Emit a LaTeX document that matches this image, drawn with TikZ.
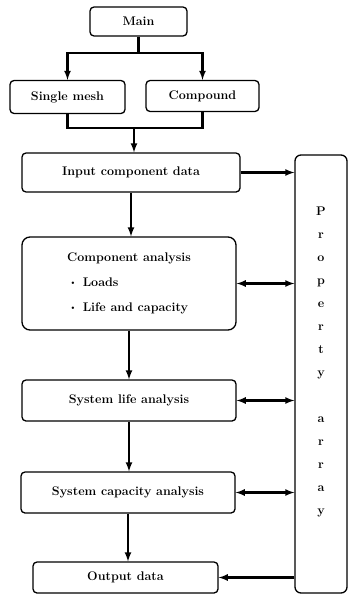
\documentclass[tikz,border=0pt]{standalone}
\usepackage{tikz}
\usetikzlibrary{arrows,calc}
\tikzstyle{blk}=[draw, line width=1.3pt, rounded corners=4pt, inner sep=0pt, font=\fontsize{12.5}{14}\bfseries]
\tikzstyle{lnk}=[line width=2.1pt]
\tikzstyle{arr}=[line width=2.1pt, -latex]
\tikzstyle{darr}=[line width=2.1pt, latex-latex]
\newcommand{\dotitem}{\hspace{4pt}\raisebox{2.5pt}{\tiny$\bullet$}\hspace{8pt}}

\begin{document}
\begin{tikzpicture}[x=1pt,y=-1pt]
\useasboundingbox (0,0) rectangle (349,597);
% program levels
\node[blk, minimum width=97pt, minimum height=29pt] (main) at (138.5,21.5) {Main};
\node[blk, minimum width=115pt, minimum height=33pt] (single) at (67.5,97) {Single mesh};
\node[blk, minimum width=113pt, minimum height=31pt] (compound) at (202.5,96) {Compound};
\node[blk, minimum width=218pt, minimum height=39pt] (input) at (131,172.5) {Input component data};
\node[blk, minimum width=214pt, minimum height=93pt, rounded corners=8pt, align=left,
  font=\fontsize{12.5}{25}\bfseries] (compana) at (129,283.5)
  {Component analysis\\ \dotitem Loads\\ \dotitem Life and capacity};
\node[blk, minimum width=214pt, minimum height=41pt] (syslife) at (129,400.5) {System life analysis};
\node[blk, minimum width=214pt, minimum height=41pt] (syscap) at (128,492.5) {System capacity analysis};
\node[blk, minimum width=185pt, minimum height=31pt] (output) at (125.5,577.5) {Output data};
% property array
\node[blk, minimum width=52pt, minimum height=438pt, rounded corners=6pt] (prop) at (321,374) {};
\node[font=\fontsize{12.5}{23}\bfseries, align=center] (proptxt) at (321,362)
  {P\\r\\o\\p\\e\\r\\t\\y\\[23pt]a\\r\\r\\a\\y};

% split and join
\coordinate (split) at ($(main.south)+(0,16)$);
\coordinate (join) at (134,128);
\draw[lnk] (main.south) -- (split);
\draw[arr] (split) -| (single.north);
\draw[arr] (split) -| (compound.north);
\draw[lnk] (single.south) |- (join) -| (compound.south);
\draw[arr] (join) -- (join |- input.north);

% main flow
\draw[arr] (input.south) -- (input.south |- compana.north);
\draw[arr] (compana.south) -- (compana.south |- syslife.north);
\draw[arr] (syslife.south) -- (syslife.south |- syscap.north);
\draw[arr] (syscap.south) -- (syscap.south |- output.north);

% links to property array
\draw[arr] (input.east) -- (input.east -| prop.west);
\draw[darr] (compana.east) -- (compana.east -| prop.west);
\draw[darr] (syslife.east) -- (syslife.east -| prop.west);
\draw[darr] (syscap.east) -- (syscap.east -| prop.west);
\draw[arr] (output.east -| prop.west) -- (output.east);
\end{tikzpicture}
\end{document}
